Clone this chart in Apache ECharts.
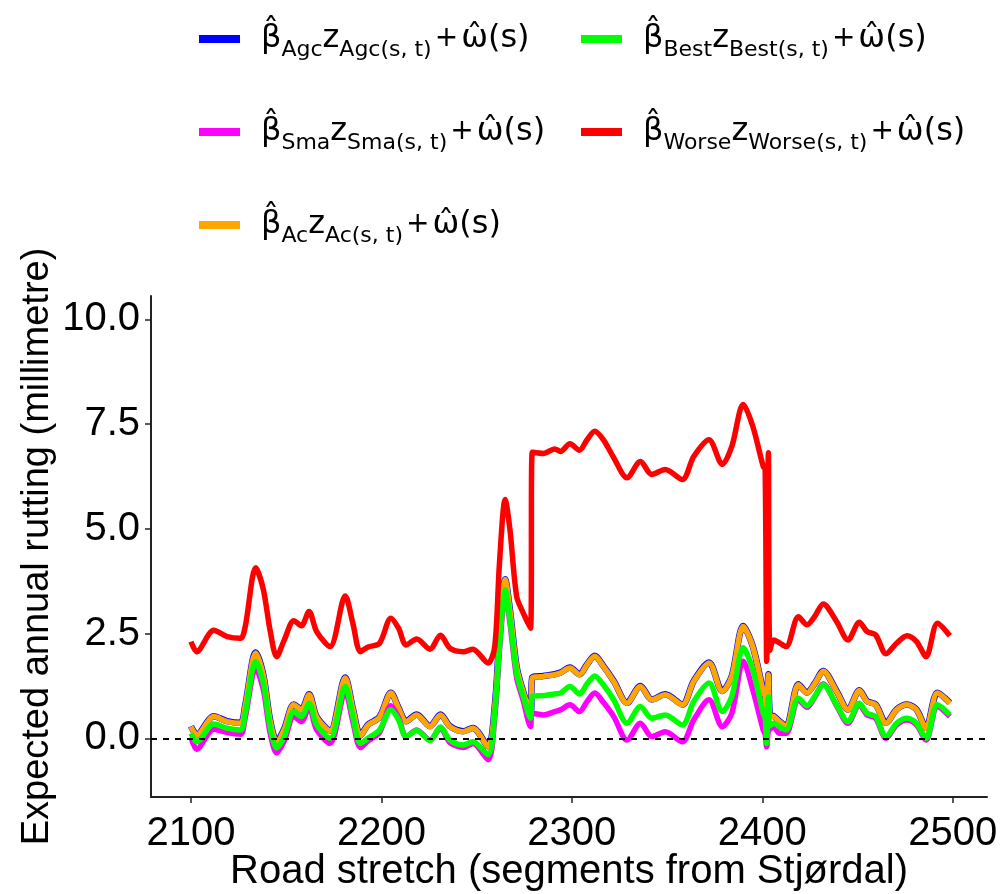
<!DOCTYPE html>
<html>
<head>
<meta charset="utf-8">
<script src="https://cdn.jsdelivr.net/npm/echarts@6/dist/echarts.min.js"></script>
<style>
  html, body { margin: 0; padding: 0; background: #fff; }
  #chart { width: 1000px; height: 894px; }
</style>
</head>
<body>
<div id="chart"></div>
<script>
// road segments (x) shared by all curves
var segments = [2100, 2103, 2112, 2119, 2126, 2128.5, 2134, 2138, 2141.5, 2145, 2149, 2154, 2158, 2162, 2166, 2173, 2181, 2185, 2189, 2193,
  2199, 2205, 2209, 2213, 2218.5, 2225.5, 2231, 2236, 2243, 2248, 2256, 2259.5, 2262, 2265, 2267.5, 2271, 2274.5, 2278.3, 2279.2,
  2285, 2291, 2294, 2299, 2304, 2308, 2312, 2316.5, 2322, 2329, 2336, 2342, 2349, 2358, 2364, 2372, 2379, 2384, 2390, 2395,
  2400.5, 2401.5, 2402.3, 2403.2, 2404, 2406, 2409, 2412.5, 2419, 2423.5, 2427.5, 2432, 2439, 2445, 2451, 2455, 2459.5, 2465,
  2470.5, 2476, 2481, 2486, 2492, 2498.5];

var worse = [2.31, 2.07, 2.58, 2.43, 2.39, 2.67, 4.07, 3.55, 2.59, 1.95, 2.35, 2.81, 2.69, 3.03, 2.55, 2.19, 3.40, 2.75, 2.07, 2.18,
  2.27, 2.87, 2.63, 2.23, 2.37, 2.13, 2.46, 2.15, 2.07, 2.13, 1.80, 2.19, 4.19, 5.70, 4.98, 3.39, 2.99, 2.63, 6.83,
  6.80, 6.91, 6.85, 7.03, 6.88, 7.13, 7.33, 7.13, 6.70, 6.22, 6.61, 6.30, 6.42, 6.18, 6.73, 7.13, 6.54, 6.97, 7.97, 7.45,
  6.49, 6.43, 1.84, 6.82, 2.10, 2.35, 2.28, 2.19, 2.90, 2.71, 2.91, 3.21, 2.79, 2.35, 2.77, 2.55, 2.47, 2.02,
  2.27, 2.45, 2.31, 1.95, 2.75, 2.45];

var best = [0.12, -0.08, 0.34, 0.24, 0.20, 0.60, 1.84, 1.32, 0.28, -0.23, 0.04, 0.64, 0.52, 0.84, 0.32, 0.00, 1.24, 0.52, -0.12, 0.00,
  0.20, 0.68, 0.44, 0.04, 0.19, -0.05, 0.27, -0.04, -0.16, -0.08, -0.39, 0.60, 2.19, 3.55, 2.83, 1.56, 1.00, 0.48, 1.00,
  1.02, 1.06, 1.08, 1.24, 1.06, 1.30, 1.49, 1.28, 0.92, 0.36, 0.76, 0.48, 0.56, 0.32, 0.88, 1.32, 0.64, 1.00, 2.16, 1.64,
  0.60, 0.50, -0.12, 1.00, 0.30, 0.36, 0.28, 0.20, 0.96, 0.78, 1.00, 1.28, 0.80, 0.40, 0.84, 0.60, 0.52, 0.04,
  0.36, 0.48, 0.36, 0.00, 0.80, 0.56];

var ac = [0.28, 0.08, 0.52, 0.40, 0.36, 0.78, 2.04, 1.50, 0.44, -0.08, 0.22, 0.80, 0.68, 1.04, 0.50, 0.18, 1.44, 0.70, 0.06, 0.32,
  0.50, 1.08, 0.72, 0.40, 0.56, 0.28, 0.56, 0.28, 0.16, 0.24, -0.20, 0.75, 2.40, 3.79, 3.05, 1.70, 1.10, 0.60, 1.44,
  1.48, 1.52, 1.56, 1.68, 1.52, 1.76, 1.96, 1.72, 1.36, 0.84, 1.24, 0.92, 1.04, 0.80, 1.36, 1.80, 1.12, 1.48, 2.67, 2.19,
  1.12, 1.00, 0.40, 1.52, 0.55, 0.52, 0.40, 0.28, 1.28, 1.08, 1.30, 1.60, 1.12, 0.68, 1.14, 0.88, 0.80, 0.36,
  0.68, 0.80, 0.68, 0.24, 1.08, 0.84];

var agc = [0.29, 0.09, 0.53, 0.41, 0.37, 0.79, 2.05, 1.51, 0.45, -0.07, 0.23, 0.81, 0.69, 1.05, 0.51, 0.19, 1.45, 0.71, 0.07, 0.33,
  0.51, 1.09, 0.73, 0.41, 0.57, 0.29, 0.57, 0.29, 0.17, 0.25, -0.19, 0.76, 2.41, 3.80, 3.06, 1.71, 1.11, 0.61, 1.45,
  1.49, 1.53, 1.57, 1.69, 1.53, 1.77, 1.97, 1.73, 1.37, 0.85, 1.25, 0.93, 1.05, 0.81, 1.37, 1.81, 1.13, 1.49, 2.68, 2.20,
  1.13, 1.01, 0.41, 1.53, 0.56, 0.53, 0.41, 0.29, 1.29, 1.09, 1.31, 1.61, 1.13, 0.69, 1.15, 0.89, 0.81, 0.37,
  0.69, 0.81, 0.69, 0.25, 1.09, 0.85];

var sma = [0.02, -0.26, 0.22, 0.14, 0.10, 0.50, 1.68, 1.16, 0.14, -0.35, -0.06, 0.52, 0.40, 0.74, 0.20, -0.12, 1.12, 0.40, -0.22, -0.06,
  0.14, 0.78, 0.50, 0.04, 0.20, -0.04, 0.24, -0.10, -0.22, -0.12, -0.51, 0.50, 2.10, 3.45, 2.75, 1.45, 0.90, 0.28, 0.60,
  0.56, 0.64, 0.68, 0.80, 0.64, 0.88, 1.08, 0.86, 0.52, -0.04, 0.36, 0.04, 0.16, -0.08, 0.44, 0.92, 0.28, 0.60, 1.84, 1.16,
  0.20, 0.10, -0.20, 0.20, 0.22, 0.28, 0.12, 0.12, 0.92, 0.74, 0.98, 1.30, 0.78, 0.36, 0.80, 0.56, 0.48, 0.00,
  0.32, 0.44, 0.32, -0.04, 0.76, 0.52];

var xTicks = [2100, 2200, 2300, 2400, 2500];
var yTicks = [0, 2.5, 5, 7.5, 10];

var axisFont = "'Liberation Sans', Arial, sans-serif";
var mathFont = "'DejaVu Sans', sans-serif";

function pairs (vals) {
  return segments.map(function (s, i) { return [s, vals[i]]; });
}

function curve (name, color, vals, width) {
  return {
    name: name,
    type: 'line',
    data: pairs(vals),
    symbol: 'none',
    smooth: 0.3,
    lineStyle: { color: color, width: width },
    itemStyle: { color: color },
    emphasis: { disabled: true }
  };
}

function legendLabel (name) {
  return '{b|\u03B2\u0302}{s|' + name + '}{m|z}{s|' + name + '(s, t)}{p|+}{m|\u03C9\u0302(s)}';
}

var rich = {
  b: { fontFamily: mathFont, fontSize: 32, lineHeight: 44, padding: [0, 0, 0, 16], color: '#000' },
  m: { fontFamily: mathFont, fontSize: 32, lineHeight: 44, color: '#000' },
  p: { fontFamily: mathFont, fontSize: 28, lineHeight: 44, padding: [0, 3, 0, 3], color: '#000' },
  s: { fontFamily: mathFont, fontSize: 22, lineHeight: 18, verticalAlign: 'bottom', color: '#000' }
};

var chart = echarts.init(document.getElementById('chart'));

var zeroLine = {
  silent: true,
  symbol: 'none',
  label: { show: false },
  lineStyle: { color: '#000', type: [6, 6], width: 2 },
  data: [{ yAxis: 0 }]
};

var agcSeries = curve('Agc', '#0000ff', agc, 6.5);
agcSeries.markLine = zeroLine;

var legendBase = {
  orient: 'vertical',
  top: 18,
  itemGap: 55,
  itemWidth: 41,
  itemHeight: 8,
  icon: 'rect',
  selectedMode: false,
  formatter: legendLabel,
  textStyle: { rich: rich }
};

var option = {
  animation: false,
  backgroundColor: '#fff',
  legend: [
    Object.assign({ data: ['Agc', 'Sma', 'Ac'], left: 194 }, legendBase),
    Object.assign({ data: ['Best', 'Worse'], left: 576 }, legendBase)
  ],
  grid: { left: 151, right: 13, top: 296, bottom: 97, containLabel: false, outerBoundsMode: 'none' },
  xAxis: {
    type: 'value',
    min: 2079,
    max: 2518,
    name: 'Road stretch (segments from Stjørdal)',
    nameLocation: 'middle',
    nameGap: 55,
    nameMoveOverlap: false,
    nameTextStyle: { fontFamily: axisFont, fontSize: 40, color: '#000' },
    axisLine: { show: true, onZero: false, lineStyle: { color: '#222', width: 2 } },
    axisTick: { show: true, length: 6, customValues: xTicks, lineStyle: { color: '#222', width: 1.5 } },
    axisLabel: {
      customValues: xTicks,
      margin: 17,
      fontFamily: axisFont,
      fontSize: 40,
      color: '#000',
      formatter: function (v) { return String(v); }
    },
    splitLine: { show: false }
  },
  yAxis: {
    type: 'value',
    min: -1.4,
    max: 10.56,
    name: 'Expected annual rutting (millimetre)',
    nameLocation: 'middle',
    nameGap: 94,
    nameMoveOverlap: false,
    nameTextStyle: { fontFamily: axisFont, fontSize: 38, color: '#000' },
    axisLine: { show: true, onZero: false, lineStyle: { color: '#222', width: 2 } },
    axisTick: { show: true, length: 6, customValues: yTicks, lineStyle: { color: '#222', width: 1.5 } },
    axisLabel: {
      customValues: yTicks,
      margin: 11,
      fontFamily: axisFont,
      fontSize: 40,
      color: '#000',
      formatter: function (v) { return v.toFixed(1); }
    },
    splitLine: { show: false }
  },
  series: [
    agcSeries,
    curve('Ac', '#ffa500', ac, 5.5),
    curve('Sma', '#ff00ff', sma, 5.5),
    curve('Best', '#00ff00', best, 5.5),
    curve('Worse', '#ff0000', worse, 5.5)
  ]
};

chart.setOption(option);
</script>
</body>
</html>
